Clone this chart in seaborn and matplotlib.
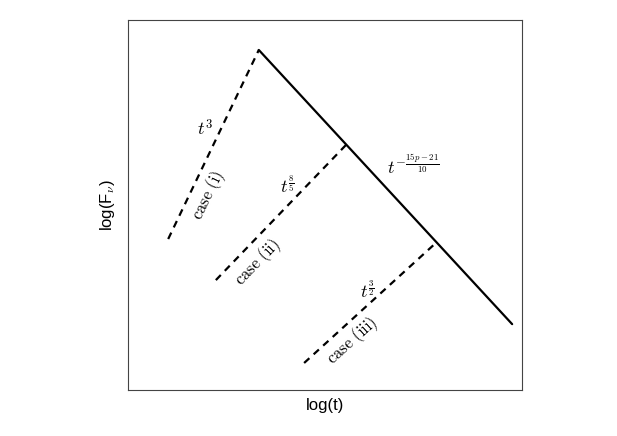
import matplotlib
matplotlib.use("Agg")
import matplotlib.pyplot as plt
import seaborn as sns

# segment end points (log t, log F_nu) in arbitrary units
decay_x = [3.32, 9.75]
decay_y = [9.19, 1.78]
case1_x = [1.02, 3.32]
case1_y = [4.08, 9.19]
case2_x = [2.23, 5.53]
case2_y = [2.97, 6.62]
case3_x = [4.47, 7.84]
case3_y = [0.73, 4.00]

sns.set_style("white")
plt.rcParams["mathtext.fontset"] = "cm"
plt.rcParams["font.family"] = ["Liberation Sans", "DejaVu Sans"]

fig = plt.figure(figsize=(6.17, 4.36), dpi=100)
ax = fig.add_axes([128 / 617, 46 / 436, 394 / 617, 370 / 436])

sns.lineplot(x=decay_x, y=decay_y, ax=ax, color="black", linewidth=1.6)
for xs, ys in [(case1_x, case1_y), (case2_x, case2_y), (case3_x, case3_y)]:
    sns.lineplot(x=xs, y=ys, ax=ax, color="black", linewidth=1.6,
                 linestyle=(0, (3.2, 2.6)))

ax.set_xlim(0, 10)
ax.set_ylim(0, 10)
ax.set_xticks([])
ax.set_yticks([])
for spine in ax.spines.values():
    spine.set_color("#444444")
    spine.set_linewidth(0.8)

tk = dict(color="black", ha="center", va="center")
ax.text(1.95, 7.05, r"$t^3$", fontsize=13, **tk)
ax.text(2.03, 5.27, r"$\mathrm{case\ (i)}$", fontsize=12, rotation=64, **tk)
ax.text(4.04, 5.50, r"$t^{\frac{8}{5}}$", fontsize=13, **tk)
ax.text(3.28, 3.45, r"$\mathrm{case\ (ii)}$", fontsize=12, rotation=46, **tk)
ax.text(7.25, 6.05, r"$t^{-\frac{15p-21}{10}}$", fontsize=13, **tk)
ax.text(6.07, 2.68, r"$t^{\frac{3}{2}}$", fontsize=13, **tk)
ax.text(5.69, 1.33, r"$\mathrm{case\ (iii)}$", fontsize=12, rotation=42, **tk)

ax.set_xlabel("log(t)", fontsize=12, labelpad=6, color="black")
ax.set_ylabel(r"log(F$_{\nu}$)", fontsize=12, labelpad=8, color="black")

fig.savefig("out.png", dpi=100)
